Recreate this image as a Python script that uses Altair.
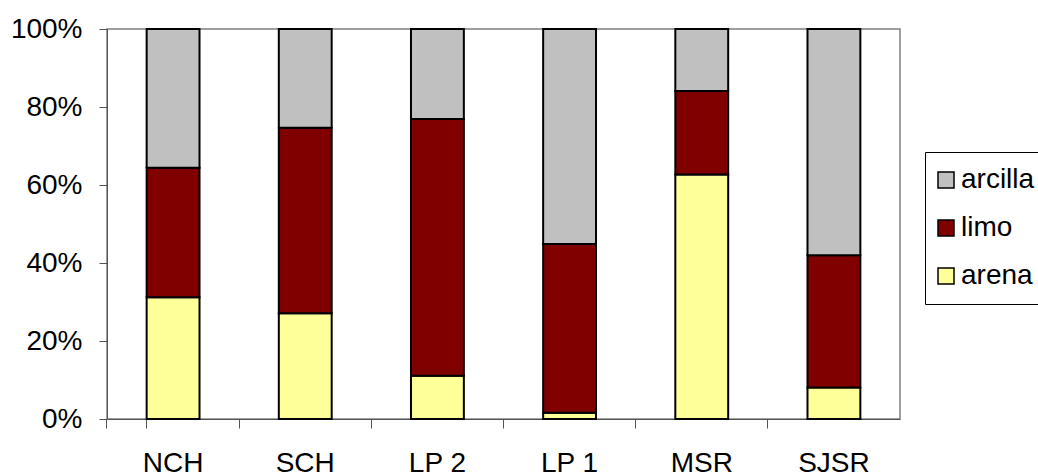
import altair as alt
import pandas as pd

sites = ["NCH", "SCH", "LP 2", "LP 1", "MSR", "SJSR"]
arena = [31.2, 27.1, 11.1, 1.6, 62.7, 8.1]
limo = [33.2, 47.6, 65.8, 43.3, 21.4, 33.9]
arcilla = [35.6, 25.3, 23.1, 55.1, 15.9, 58.0]

series = ["arcilla", "limo", "arena"]
colors = ["#C0C0C0", "#800000", "#FFFF99"]
stack_pos = {"arena": 0, "limo": 1, "arcilla": 2}

rows = []
for i, s in enumerate(sites):
    for name, vals in (("arena", arena), ("limo", limo), ("arcilla", arcilla)):
        rows.append({"site": s, "comp": name, "value": vals[i], "ord": stack_pos[name]})
df = pd.DataFrame(rows)

FONT = "Liberation Sans"

chart = alt.Chart(df).mark_bar(stroke="black", strokeWidth=2).encode(
    x=alt.X("site:N", sort=sites, title=None,
            scale=alt.Scale(paddingInner=0.6, paddingOuter=0.3),
            axis=alt.Axis(labelAngle=0, labelFontSize=28, labelFont=FONT, labelColor="black",
                          bandPosition=-0.75, tickExtra=True, tickSize=9, tickColor="#555555",
                          domainColor="#555555", labelPadding=21)),
    y=alt.Y("value:Q", stack="normalize", title=None,
            scale=alt.Scale(domain=[0, 1]),
            axis=alt.Axis(format=".0%", values=[0, 0.2, 0.4, 0.6, 0.8, 1.0],
                          labelFontSize=28, labelFont=FONT, labelColor="black",
                          tickSize=8, tickColor="#555555", domainColor="#555555",
                          labelPadding=17, grid=False)),
    color=alt.Color("comp:N", scale=alt.Scale(domain=series, range=colors),
                    legend=alt.Legend(title=None, orient="none", legendX=818, legendY=123,
                                      symbolType="square", symbolSize=256,
                                      symbolStrokeColor="black", symbolStrokeWidth=1.5,
                                      symbolOffset=-7,
                                      labelFontSize=28, labelFont=FONT, labelColor="black",
                                      rowPadding=20, padding=14, labelOffset=1,
                                      strokeColor="black", fillColor="white",
                                      labelLimit=300)),
    order=alt.Order("ord:Q", sort="ascending"),
).properties(
    width=793, height=390,
    autosize=alt.AutoSizeParams(type="none"),
    padding={"left": 107, "top": 29, "right": 138, "bottom": 56},
).configure_view(stroke="#808080", strokeWidth=1.5)

chart.save("out.html", embed_options={"renderer": "svg", "actions": False})
